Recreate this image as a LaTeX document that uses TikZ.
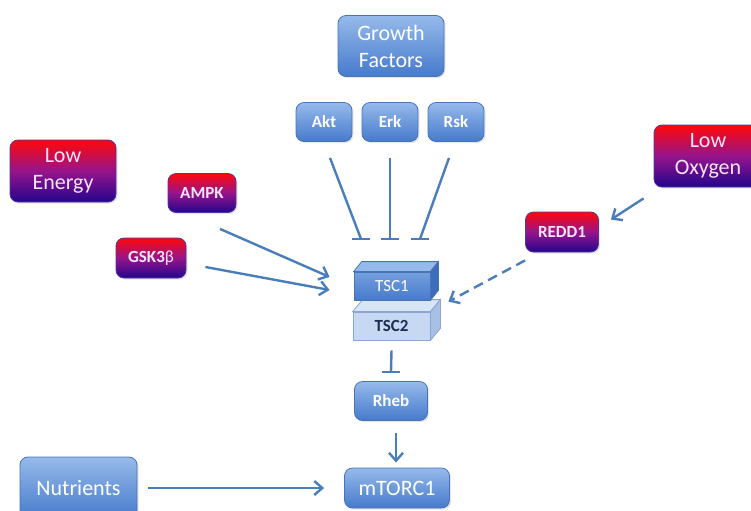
\documentclass[tikz,border=0pt]{standalone}
\usepackage{fontspec}
\setmainfont{Carlito}
\usetikzlibrary{arrows.meta,shadows}

\definecolor{lineblue}{RGB}{74,126,187}
\definecolor{boxtop}{RGB}{150,186,234}
\definecolor{boxbot}{RGB}{70,122,204}
\definecolor{boxline}{RGB}{72,116,182}
\definecolor{hired}{RGB}{255,8,8}
\definecolor{midpurple}{RGB}{150,20,140}
\definecolor{lownavy}{RGB}{35,5,140}
\definecolor{pinktext}{RGB}{250,228,250}
\definecolor{paleblue}{RGB}{198,216,242}
\definecolor{darknavy}{RGB}{28,46,82}

\tikzset{
  bluebox/.style={draw=boxline, rounded corners=4pt, top color=boxtop, bottom color=boxbot,
    text=white, align=center, drop shadow={opacity=0.2, shadow xshift=0.8pt, shadow yshift=-0.8pt}},
  redbox/.style={draw=lownavy!80, rounded corners=4pt, top color=hired, bottom color=lownavy,
    middle color=midpurple, text=pinktext, align=center,
    drop shadow={opacity=0.2, shadow xshift=0.8pt, shadow yshift=-0.8pt}},
  big/.style={font=\fontsize{11}{13.5}\selectfont, minimum height=30.5pt},
  small/.style={font=\fontsize{8.5}{10}\selectfont\bfseries, minimum height=19.5pt},
  link/.style={draw=lineblue, line width=1.2pt},
  act/.style={link, -{Straight Barb[length=4pt,width=7pt]}},
}

\begin{document}
\begin{tikzpicture}[x=0.5pt, y=-0.5pt]
\useasboundingbox (0,0) rectangle (751,510);
\clip (0,0) rectangle (751,510);

% upstream signals
\node[bluebox, big, minimum width=53pt] (gf) at (391,46) {Growth\\Factors};
\node[bluebox, small, minimum width=28pt] (akt) at (324,122) {Akt};
\node[bluebox, small, minimum width=28pt] (erk) at (390,122) {Erk};
\node[bluebox, small, minimum width=28pt] (rsk) at (456,122) {Rsk};

\node[redbox, big, minimum width=53pt, minimum height=31pt] (lowe) at (63,171) {Low\\Energy};
\node[redbox, small, minimum width=34pt] (ampk) at (202,193) {AMPK};
\node[redbox, small, minimum width=35pt, minimum height=20pt] (gsk) at (151,258) {GSK3{\mdseries β}};
\node[redbox, big, minimum width=54pt, minimum height=31pt] (lowo) at (708,156) {Low\\Oxygen};
\node[redbox, small, minimum width=36.5pt, minimum height=20pt] (redd) at (562,232) {REDD1};

% TSC complex
\node[draw={rgb,255:red,140;green,166;blue,212}, fill=paleblue, text=darknavy,
  font=\fontsize{8.5}{10}\selectfont\bfseries, minimum width=38.5pt, minimum height=14pt]
  (tsc2) at (391.5,326) {TSC2};
\filldraw[draw={rgb,255:red,140;green,166;blue,212}, fill={rgb,255:red,216;green,229;blue,247}]
  (tsc2.north west) -- (tsc2.north east) -- ++(10,-12) -- ([shift={(10,-12)}]tsc2.north west) -- cycle;
\filldraw[draw={rgb,255:red,140;green,166;blue,212}, fill={rgb,255:red,168;green,192;blue,228}]
  (tsc2.north east) -- ++(10,-12) -- ([shift={(10,-12)}]tsc2.south east) -- (tsc2.south east) -- cycle;

\node[draw=boxline, top color={rgb,255:red,118;green,160;blue,222}, bottom color=boxbot, text=white,
  font=\fontsize{8.5}{10}\selectfont, minimum width=38pt, minimum height=14pt]
  (tsc1) at (392,286) {TSC1};
\filldraw[draw=boxline, fill={rgb,255:red,150;green,186;blue,236}]
  (tsc1.north west) -- (tsc1.north east) -- ++(8,-10) -- ([shift={(8,-10)}]tsc1.north west) -- cycle;
\filldraw[draw=boxline, fill={rgb,255:red,64;green,108;blue,188}]
  (tsc1.north east) -- ++(8,-10) -- ([shift={(8,-10)}]tsc1.south east) -- (tsc1.south east) -- cycle;

% downstream
\node[bluebox, small, minimum width=36.5pt] (rheb) at (391,401) {Rheb};
\node[bluebox, big, minimum width=52.5pt, minimum height=20pt] (mtorc) at (397,488) {mTORC1};
\node[bluebox, big, minimum width=58.5pt, minimum height=31pt] (nutr) at (78.5,488) {Nutrients};

% inhibition of TSC by growth factor kinases
\coordinate (t1) at (361,239);
\coordinate (t2) at (390,239);
\coordinate (t3) at (420,239);
\draw[link] ([shift={(6,16)}]akt.south) -- (t1);
\draw[link] ([shift={(0,16)}]erk.south) -- (t2);
\draw[link] ([shift={(-7,16)}]rsk.south) -- (t3);
\draw[link] ([xshift=-4.5pt]t1) -- ([xshift=4.5pt]t1);
\draw[link] ([xshift=-4.5pt]t2) -- ([xshift=4.5pt]t2);
\draw[link] ([xshift=-4.5pt]t3) -- ([xshift=4.5pt]t3);

% activation of TSC
\draw[act] ([shift={(18,16)}]ampk.south) -- ([shift={(-24,-9)}]tsc1.west);
\draw[act] ([shift={(19,9)}]gsk.east) -- ([shift={(-24,4)}]tsc1.west);
\draw[act] ([shift={(-10,11)}]lowo.south west) -- ([shift={(12,8)}]redd.north east);
\draw[act, dashed, dash pattern=on 5pt off 3pt] ([shift={(0,8)}]redd.south west) -- ([shift={(18,-10)}]tsc2.north east);

% TSC2 -| Rheb -> mTORC1
\coordinate (t4) at (391,372);
\draw[link] ([shift={(0,10)}]tsc2.south) -- (t4);
\draw[link] ([xshift=-4.5pt]t4) -- ([xshift=4.5pt]t4);
\draw[act] ([shift={(5,12)}]rheb.south) -- ([shift={(-1,-5)}]mtorc.north);
\draw[act] ([shift={(11,0)}]nutr.east) -- ([shift={(-20,0)}]mtorc.west);
\end{tikzpicture}
\end{document}
